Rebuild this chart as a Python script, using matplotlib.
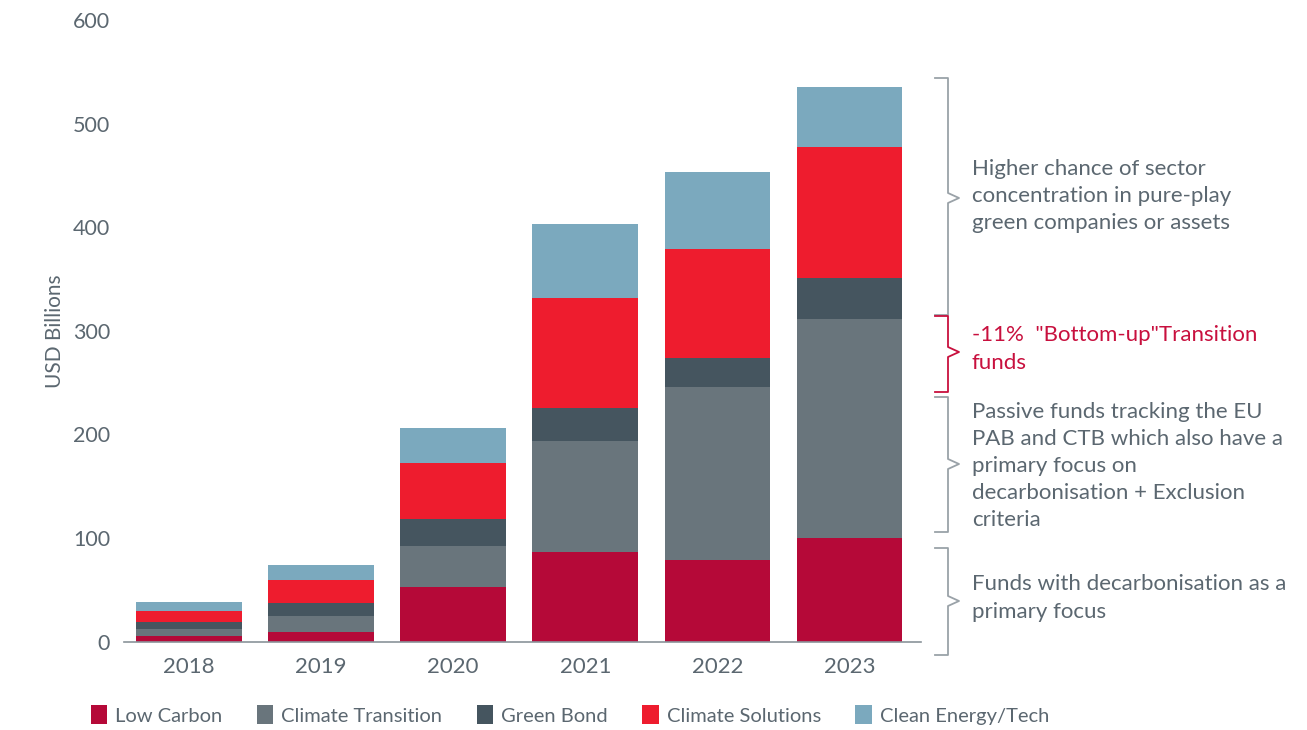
import matplotlib
matplotlib.use("Agg")
import matplotlib.pyplot as plt
from matplotlib.lines import Line2D
from matplotlib.patches import Patch
import numpy as np

years = ["2018", "2019", "2020", "2021", "2022", "2023"]
low_carbon = [5.3, 9.5, 52.6, 86.4, 78.7, 99.9]
climate_transition = [6.8, 15.1, 39.6, 107.2, 167.0, 211.4]
green_bond = [6.7, 12.3, 26.1, 31.8, 28.3, 39.9]
climate_solutions = [10.6, 22.5, 54.0, 106.2, 104.9, 126.2]
clean_energy = [8.7, 14.5, 33.8, 71.5, 74.4, 57.9]

series_names = ["Low Carbon", "Climate Transition", "Green Bond", "Climate Solutions", "Clean Energy/Tech"]
series_values = [low_carbon, climate_transition, green_bond, climate_solutions, clean_energy]
colors = ["#B50938", "#69757C", "#45555F", "#EE1C2E", "#7BA9BE"]

yticks = [0, 100, 200, 300, 400, 500, 600]

text_gray = "#5B6770"
red_note = "#C8103E"
FONT = "Lato"

W, H = 1307, 730
fig = plt.figure(figsize=(W / 100, H / 100), dpi=100)
ax = fig.add_axes([124 / W, (730 - 641.5) / H, (921 - 124) / W, (641.5 - 20) / H])

x = np.arange(len(years))
bottom = np.zeros(len(years))
for name, vals, c in zip(series_names, series_values, colors):
    ax.bar(x, vals, width=0.8, bottom=bottom, color=c, label=name, edgecolor="none")
    bottom += np.array(vals)

ax.set_ylim(0, 600)
ax.set_xlim(-0.49, 5.54)
ax.set_yticks(yticks)
ax.set_yticklabels([str(v) for v in yticks], fontsize=15.5, color=text_gray, family=FONT)
ax.set_xticks(x)
ax.set_xticklabels(years, fontsize=16, color=text_gray, family=FONT)
ax.tick_params(axis="both", length=0)
ax.tick_params(axis="y", pad=10)
ax.tick_params(axis="x", pad=11)
for s in ["top", "right", "left"]:
    ax.spines[s].set_visible(False)
ax.spines["bottom"].set_color("#8A939A")
ax.spines["bottom"].set_linewidth(1.2)
ax.set_ylabel("USD Billions", fontsize=15, color=text_gray, family=FONT, labelpad=6)

# legend
handles = [Patch(facecolor=c, edgecolor="none") for c in colors]
fig.legend(handles, series_names, loc="center left", bbox_to_anchor=(73 / W, 1 - 715 / H),
           ncol=5, frameon=False, handlelength=0.8, handleheight=1.05, handletextpad=0.4,
           columnspacing=1.72, prop={"family": FONT, "size": 14.5}, labelcolor=text_gray)

# brackets (figure pixel coords)
def px(xp, yp):
    return xp / W, 1 - yp / H

def bracket(top, bot, tip, color):
    xs = [935, 948, 948, 959, 948, 948, 935]
    ys = [top, top, tip - 5, tip, tip + 5, bot, bot]
    fx = [v / W for v in xs]
    fy = [1 - v / H for v in ys]
    fig.add_artist(Line2D(fx, fy, color=color, lw=1.3, transform=fig.transFigure))

bracket(78, 315, 198, "#9AA2A8")
bracket(316, 392, 352, red_note)
bracket(397, 532, 464, "#9AA2A8")
bracket(548, 655, 601, "#9AA2A8")

notes = [
    ("Higher chance of sector\nconcentration in pure-play\ngreen companies or assets", 196, text_gray),
    ("-11%  \"Bottom-up\"Transition\nfunds", 349, red_note),
    ("Passive funds tracking the EU\nPAB and CTB which also have a\nprimary focus on\ndecarbonisation + Exclusion\ncriteria", 466, text_gray),
    ("Funds with decarbonisation as a\nprimary focus", 598, text_gray),
]
for txt, yc, col in notes:
    fx, fy = px(972, yc)
    fig.text(fx, fy, txt, ha="left", va="center", fontsize=16, color=col,
             family=FONT, linespacing=1.45)

fig.savefig("out.png", dpi=100)
